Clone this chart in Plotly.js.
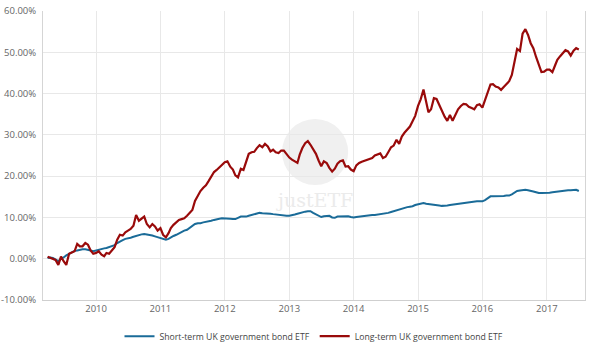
<!DOCTYPE html>
<html>
<head>
<meta charset="utf-8">
<script src="https://cdn.plot.ly/plotly-3.0.1.min.js"></script>
<style>html,body{margin:0;padding:0;background:#fff;}#chart{width:599px;height:348px;}</style>
</head>
<body>
<div id="chart"></div>
<script>
const dates = [
"2009-04-01","2009-04-16","2009-05-01","2009-05-16","2009-06-01","2009-06-16","2009-07-01","2009-07-16","2009-08-01","2009-08-16","2009-09-01","2009-09-16","2009-10-01","2009-10-16","2009-11-01","2009-11-16","2009-12-01","2009-12-16",
"2010-01-01","2010-01-16","2010-02-01","2010-02-16","2010-03-01","2010-03-16","2010-04-01","2010-04-16","2010-05-01","2010-05-16","2010-06-01","2010-06-16","2010-07-01","2010-07-16","2010-08-01","2010-08-16","2010-09-01","2010-09-16","2010-10-01","2010-10-16","2010-11-01","2010-11-16","2010-12-01","2010-12-16",
"2011-01-01","2011-01-16","2011-02-01","2011-02-16","2011-03-01","2011-03-16","2011-04-01","2011-04-16","2011-05-01","2011-05-16","2011-06-01","2011-06-16","2011-07-01","2011-07-16","2011-08-01","2011-08-16","2011-09-01","2011-09-16","2011-10-01","2011-10-16","2011-11-01","2011-11-16","2011-12-01","2011-12-16",
"2012-01-01","2012-01-16","2012-02-01","2012-02-16","2012-03-01","2012-03-16","2012-04-01","2012-04-16","2012-05-01","2012-05-16","2012-06-01","2012-06-16","2012-07-01","2012-07-16","2012-08-01","2012-08-16","2012-09-01","2012-09-16","2012-10-01","2012-10-16","2012-11-01","2012-11-16","2012-12-01","2012-12-16",
"2013-01-01","2013-01-16","2013-02-01","2013-02-16","2013-03-01","2013-03-16","2013-04-01","2013-04-16","2013-05-01","2013-05-16","2013-06-01","2013-06-16","2013-07-01","2013-07-16","2013-08-01","2013-08-16","2013-09-01","2013-09-16","2013-10-01","2013-10-16","2013-11-01","2013-11-16","2013-12-01","2013-12-16",
"2014-01-01","2014-01-16","2014-02-01","2014-02-16","2014-03-01","2014-03-16","2014-04-01","2014-04-16","2014-05-01","2014-05-16","2014-06-01","2014-06-16","2014-07-01","2014-07-16","2014-08-01","2014-08-16","2014-09-01","2014-09-16","2014-10-01","2014-10-16","2014-11-01","2014-11-16","2014-12-01","2014-12-16",
"2015-01-01","2015-01-16","2015-02-01","2015-02-16","2015-03-01","2015-03-16","2015-04-01","2015-04-16","2015-05-01","2015-05-16","2015-06-01","2015-06-16","2015-07-01","2015-07-16","2015-08-01","2015-08-16","2015-09-01","2015-09-16","2015-10-01","2015-10-16","2015-11-01","2015-11-16","2015-12-01","2015-12-16",
"2016-01-01","2016-01-16","2016-02-01","2016-02-16","2016-03-01","2016-03-16","2016-04-01","2016-04-16","2016-05-01","2016-05-16","2016-06-01","2016-06-16","2016-07-01","2016-07-16","2016-08-01","2016-08-16","2016-09-01","2016-09-16","2016-10-01","2016-10-16","2016-11-01","2016-11-16","2016-12-01","2016-12-16",
"2017-01-01","2017-01-16","2017-02-01","2017-02-16","2017-03-01","2017-03-16","2017-04-01","2017-04-16","2017-05-01","2017-05-16","2017-06-01","2017-06-16","2017-07-01"
];

const shortTerm = [
0.2,0.3,0.2,-0.2,-0.6,0.0,0.3,0.8,1.2,1.6,1.9,2.0,2.2,2.3,2.3,2.2,2.0,1.8,
2.0,2.3,2.4,2.5,2.6,2.8,3.0,3.3,3.8,4.2,4.5,4.8,4.9,5.1,5.3,5.5,5.8,5.9,6.0,5.9,5.8,5.6,5.4,5.2,
5.0,4.8,4.6,4.8,5.2,5.5,5.8,6.2,6.5,6.8,7.0,7.4,7.9,8.4,8.6,8.6,8.8,8.9,9.0,9.2,9.4,9.6,9.7,9.8,
9.8,9.8,9.7,9.6,9.6,9.9,10.2,10.2,10.2,10.4,10.6,10.8,11.0,11.1,11.0,11.0,10.9,10.9,10.8,10.7,10.6,10.6,10.5,10.4,
10.4,10.5,10.7,10.9,11.1,11.2,11.4,11.5,11.5,11.1,10.8,10.4,10.1,10.3,10.4,10.4,10.0,9.9,10.2,10.2,10.2,10.2,10.3,10.1,
10.0,10.1,10.2,10.4,10.4,10.5,10.5,10.6,10.6,10.7,10.7,10.8,10.9,11.1,11.3,11.5,11.7,11.9,12.2,12.4,12.5,12.6,12.7,13.0,
13.2,13.4,13.5,13.3,13.2,13.1,13.1,13.0,12.9,12.8,12.8,12.9,13.0,13.1,13.2,13.3,13.4,13.5,13.6,13.7,13.8,13.9,13.9,13.9,
13.9,14.2,14.7,15.1,15.1,15.1,15.1,15.2,15.2,15.3,15.3,15.6,16.1,16.4,16.5,16.6,16.7,16.6,16.5,16.3,16.1,15.9,15.9,15.9,
15.9,16.0,16.1,16.2,16.3,16.4,16.5,16.5,16.6,16.6,16.7,16.7,16.4
];

const longTerm = [
0.5,0.2,0.0,-0.3,-1.5,0.5,-0.6,-1.5,1.2,1.5,1.8,3.6,3.0,3.0,3.8,3.4,2.0,1.2,
1.4,1.8,1.0,0.6,1.4,1.2,2.0,2.8,4.6,5.8,5.6,6.4,6.8,7.2,8.0,10.6,9.2,9.8,10.2,8.4,7.6,8.4,7.8,6.8,
7.4,5.8,5.2,6.2,7.4,8.2,8.8,9.4,9.6,9.8,10.4,11.0,11.8,14.0,15.2,16.4,17.2,17.8,18.8,19.8,21.0,21.5,22.2,22.8,
23.4,23.6,22.3,21.6,20.2,19.7,21.8,21.5,23.3,25.4,25.8,25.9,26.8,27.5,27.0,27.8,27.2,26.0,26.4,25.8,25.6,26.2,26.2,25.4,
24.5,24.0,23.6,23.2,25.2,26.8,28.0,28.5,27.6,26.6,25.4,23.8,22.4,23.6,23.2,22.0,21.1,21.8,23.0,23.6,23.8,22.3,22.4,21.6,
21.2,22.6,23.2,23.5,23.7,24.1,24.3,24.4,25.0,25.3,25.5,24.4,24.7,25.8,27.0,27.4,28.8,27.8,29.6,30.5,31.2,32.0,33.3,34.6,
37.0,38.6,41.0,38.0,35.5,36.2,38.9,38.7,37.2,35.6,34.4,33.4,34.8,33.4,34.9,36.2,37.0,37.5,37.4,36.8,36.5,36.2,37.2,37.4,
36.6,38.5,40.1,42.2,42.3,41.7,41.5,40.9,41.6,42.3,43.0,44.5,48.0,50.8,50.3,54.5,55.6,54.2,52.2,51.0,48.8,47.2,45.2,45.3,
45.8,45.8,45.2,46.8,48.2,49.0,49.8,50.5,50.2,49.2,50.4,51.0,50.7
];

const seriesNames = ["Short-term UK government bond ETF","Long-term UK government bond ETF"];
const seriesColors = ["#1a6b98","#990a0a"];
const yTickVals = [-10,0,10,20,30,40,50,60];
const yTickText = ["-10.00%","0.00%","10.00%","20.00%","30.00%","40.00%","50.00%","60.00%"];

const traces = [
  {x: dates, y: shortTerm, name: seriesNames[0], type: "scatter", mode: "lines",
   line: {color: seriesColors[0], width: 2}},
  {x: dates, y: longTerm, name: seriesNames[1], type: "scatter", mode: "lines",
   line: {color: seriesColors[1], width: 2.2}}
];

const tickFont = {family: "Open Sans, sans-serif", size: 9.5, color: "#666"};

const layout = {
  width: 599, height: 348,
  margin: {l: 43, r: 14, t: 11, b: 48, pad: 0, autoexpand: false},
  paper_bgcolor: "#fff", plot_bgcolor: "#fff",
  showlegend: true,
  legend: {orientation: "h", x: 0.5, xanchor: "center", y: -0.075, yanchor: "top",
           font: {family: "Open Sans, sans-serif", size: 8.7, color: "#444"},
           itemwidth: 30, tracegroupgap: 0},
  xaxis: {type: "date", range: ["2009-03-06","2017-08-05"],
          dtick: "M12", tick0: "2010-01-01", tickformat: "%Y",
          showgrid: true, gridcolor: "#e8e8e8", gridwidth: 1,
          showline: true, linecolor: "#cfcfcf", linewidth: 1,
          ticks: "", tickfont: tickFont, zeroline: false, fixedrange: true, automargin: false},
  yaxis: {range: [-10, 60], tickvals: yTickVals, ticktext: yTickText,
          showgrid: true, gridcolor: "#e8e8e8", gridwidth: 1,
          showline: true, linecolor: "#d5d5d5", linewidth: 1, mirror: true,
          ticks: "", ticklabelstandoff: 4, tickfont: tickFont, zeroline: false, fixedrange: true, automargin: false},
  shapes: [
    {type: "circle", xref: "paper", yref: "paper", layer: "below",
     x0: 0.441, x1: 0.563, y0: 0.398, y1: 0.626,
     fillcolor: "#f0f0f0", line: {width: 0}}
  ],
  annotations: [
    {xref: "paper", yref: "paper", x: 0.5, y: 0.345, text: "justETF", showarrow: false,
     font: {family: "DejaVu Serif, serif", size: 19, color: "#ebebeb"}}
  ]
};

Plotly.newPlot("chart", traces, layout, {displayModeBar: false, staticPlot: true});
</script>
</body>
</html>
